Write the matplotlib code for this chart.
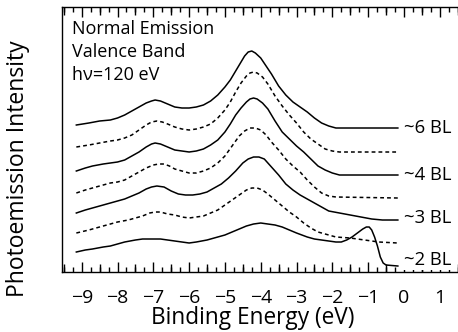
import numpy as np
import matplotlib
matplotlib.use("Agg")
import matplotlib.pyplot as plt
from matplotlib.ticker import MultipleLocator, NullFormatter

plt.rcParams["font.family"] = ["Open Sans", "DejaVu Sans"]

# binding energy (eV) and intensity (arb. units, offsets included), top to bottom
e_6bl = [-9.15, -8.8, -8.5, -8.2, -8.0, -7.8, -7.6, -7.4, -7.2, -7.05, -6.95, -6.8, -6.6, -6.4,
         -6.2, -6.0, -5.8, -5.6, -5.4, -5.2, -5.0, -4.85, -4.7, -4.55, -4.45, -4.35, -4.25,
         -4.15, -4.0, -3.85, -3.7, -3.5, -3.3, -3.1, -2.9, -2.7, -2.5, -2.3, -2.1, -1.9, -1.7, -0.17]
i_6bl = [147, 149, 151, 152, 154, 157, 161, 165, 169, 171, 172, 171, 168, 165,
         164, 164, 165, 167, 171, 177, 185, 192, 201, 210, 216, 220, 221,
         219, 214, 206, 198, 186, 177, 170, 165, 160, 154, 149, 146, 144, 144, 144]

e_5bl = [-9.15, -8.8, -8.5, -8.2, -8.0, -7.8, -7.6, -7.4, -7.2, -7.05, -6.9, -6.75, -6.6, -6.4,
         -6.2, -6.0, -5.8, -5.6, -5.4, -5.2, -5.0, -4.85, -4.7, -4.55, -4.4, -4.3, -4.2,
         -4.1, -3.95, -3.8, -3.6, -3.4, -3.2, -3.0, -2.8, -2.6, -2.4, -2.2, -2.0, -1.8, -0.17]
i_5bl = [125, 127, 129, 131, 132, 134, 137, 142, 147, 150, 151, 150, 148, 145,
         143, 142, 143, 145, 148, 154, 162, 170, 180, 189, 196, 199, 200,
         199, 195, 188, 176, 166, 157, 149, 140, 133, 128, 123, 121, 120, 120]

e_4bl = [-9.15, -8.9, -8.7, -8.4, -8.2, -8.0, -7.8, -7.6, -7.4, -7.2, -7.05, -6.95, -6.8, -6.6,
         -6.4, -6.2, -6.0, -5.8, -5.6, -5.4, -5.2, -5.0, -4.85, -4.7, -4.55, -4.4, -4.3,
         -4.2, -4.1, -3.95, -3.8, -3.6, -3.4, -3.2, -3.0, -2.8, -2.6, -2.4, -2.2, -2.0, -1.8, -0.17]
i_4bl = [101, 104, 106, 108, 109, 110, 112, 116, 120, 125, 128, 129, 128, 125,
         122, 121, 120, 121, 123, 127, 132, 140, 148, 157, 164, 170, 173,
         174, 173, 169, 163, 151, 140, 133, 126, 120, 113, 106, 102, 99, 97, 97]

e_35bl = [-9.15, -8.9, -8.7, -8.4, -8.2, -8.0, -7.8, -7.6, -7.4, -7.2, -7.0, -6.85, -6.7, -6.55,
          -6.4, -6.2, -6.0, -5.8, -5.6, -5.4, -5.2, -5.0, -4.8, -4.6, -4.45, -4.3, -4.15,
          -4.0, -3.85, -3.7, -3.5, -3.3, -3.1, -2.9, -2.7, -2.5, -2.3, -2.1, -1.9, -0.17]
i_35bl = [79, 82, 84, 87, 89, 90, 92, 96, 100, 104, 107, 108, 108, 106,
          103, 101, 99, 99, 101, 104, 109, 116, 126, 136, 141, 144, 144,
          142, 137, 130, 122, 113, 106, 100, 92, 85, 79, 76, 75, 74]

e_3bl = [-9.15, -8.9, -8.7, -8.4, -8.2, -8.0, -7.8, -7.6, -7.4, -7.2, -7.05, -6.9, -6.7, -6.5,
         -6.3, -6.1, -5.9, -5.7, -5.5, -5.3, -5.1, -4.9, -4.7, -4.5, -4.35, -4.2, -4.05,
         -3.9, -3.7, -3.5, -3.3, -3.1, -2.9, -2.7, -2.4, -2.1, -1.8, -1.5, -1.2, -0.9, -0.6, -0.17]
i_3bl = [59, 62, 64, 67, 69, 71, 73, 76, 79, 83, 85, 86, 85, 81,
         78, 77, 77, 78, 80, 84, 88, 94, 101, 109, 113, 115, 115,
         113, 105, 97, 88, 82, 77, 73, 67, 61, 59, 57, 55, 53, 52, 52]

e_25bl = [-9.15, -8.8, -8.5, -8.2, -8.0, -7.7, -7.5, -7.3, -7.1, -6.95, -6.8, -6.6, -6.4, -6.2,
          -6.0, -5.8, -5.6, -5.4, -5.2, -5.0, -4.8, -4.6, -4.4, -4.25, -4.1, -3.95, -3.8,
          -3.6, -3.4, -3.2, -3.0, -2.8, -2.6, -2.4, -2.2, -1.9, -1.5, -1.1, -0.7, -0.17]
i_25bl = [39, 42, 45, 48, 50, 52, 54, 56, 59, 60, 60, 58, 57, 55,
          54, 55, 56, 59, 62, 67, 72, 77, 82, 84, 84, 82, 78,
          72, 66, 60, 55, 49, 44, 40, 38, 35, 34, 32, 30, 29]

e_2bl = [-9.15, -8.9, -8.7, -8.4, -8.2, -8.0, -7.8, -7.5, -7.3, -7.0, -6.8, -6.6, -6.4, -6.2,
         -6.0, -5.8, -5.5, -5.2, -5.0, -4.8, -4.6, -4.4, -4.2, -4.0, -3.8, -3.6, -3.4, -3.2,
         -3.0, -2.7, -2.5, -2.3, -2.1, -1.9, -1.75, -1.6, -1.45, -1.3, -1.15, -1.05, -0.97,
         -0.9, -0.82, -0.74, -0.66, -0.58, -0.5, -0.17]
i_2bl = [20, 22, 23, 25, 26, 28, 30, 32, 33, 33, 33, 32, 31, 30,
         29, 30, 32, 35, 37, 40, 43, 46, 48, 49, 48, 47, 45, 42,
         39, 35, 33, 32, 31, 30, 30, 32, 35, 39, 43, 45, 45,
         42, 35, 26, 15, 9, 7, 6]

curves = [(e_6bl, i_6bl, "-"), (e_5bl, i_5bl, "--"), (e_4bl, i_4bl, "-"), (e_35bl, i_35bl, "--"),
          (e_3bl, i_3bl, "-"), (e_25bl, i_25bl, "--"), (e_2bl, i_2bl, "-")]

thickness_labels = ["~6 BL", "~4 BL", "~3 BL", "~2 BL"]
label_levels = [144, 97, 54, 12]

fig = plt.figure(figsize=(4.58, 3.32), dpi=100)
ax = fig.add_axes([0.1354, 0.1807, 0.8646, 0.7982])

for e, i, ls in curves:
    if ls == "--":
        ax.plot(e, i, color="black", lw=1.1, ls=(0, (2.5, 2.0)))
    else:
        ax.plot(e, i, color="black", lw=1.1)

for lab, lev in zip(thickness_labels, label_levels):
    bg = dict(facecolor="white", edgecolor="none", pad=1.0) if lab == "~2 BL" else None
    ax.text(0.0, lev, lab, fontsize=13.3, va="center", ha="left", bbox=bg, zorder=5)

ax.text(0.025, 0.952, "Normal Emission\nValence Band\nh\u03bd=120 eV", transform=ax.transAxes,
        fontsize=13, va="top", ha="left", linespacing=1.38)

ax.set_xlim(-9.55, 1.51)
ax.set_ylim(0, 265)

ax.spines["right"].set_visible(False)
for s in ["left", "top", "bottom"]:
    ax.spines[s].set_linewidth(1.0)

ax.set_yticks([])
ax.xaxis.set_major_locator(MultipleLocator(1))
ax.xaxis.set_minor_locator(MultipleLocator(0.25))
ax.tick_params(axis="x", which="major", direction="in", top=True, length=7.5, width=1.0,
               labelsize=14, pad=12)
ax.tick_params(axis="x", which="minor", direction="in", top=True, length=3.5, width=1.0)

# medium ticks at the half-integers
for side in ["bottom", "top"]:
    sec = ax.secondary_xaxis(side)
    sec.xaxis.set_major_locator(MultipleLocator(1, offset=0.5))
    sec.xaxis.set_major_formatter(NullFormatter())
    sec.tick_params(direction="in", length=5.5, width=1.0)
    sec.spines[side].set_visible(False)

ax.set_xlabel("Binding Energy (eV)", fontsize=16.3)
ax.set_ylabel("Photoemission Intensity", fontsize=16.5)
ax.xaxis.set_label_coords(0.482, -0.13)
ax.yaxis.set_label_coords(-0.08, 0.39)

fig.savefig("out.png", dpi=100)
